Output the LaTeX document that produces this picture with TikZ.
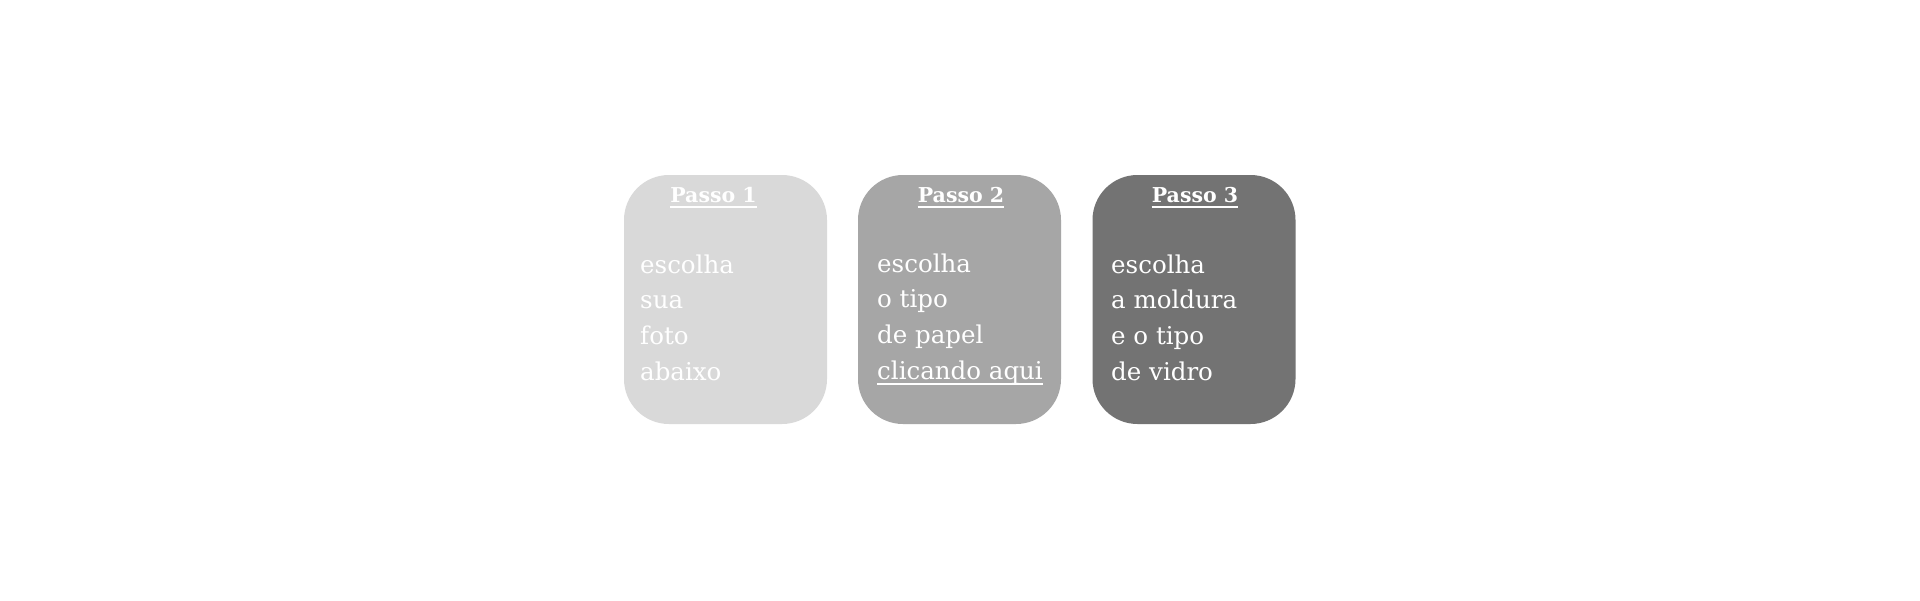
\documentclass[tikz,border=0pt]{standalone}
\usepackage{fontspec}
\setmainfont{DejaVu Serif}
\definecolor{g1}{HTML}{D9D9D9}
\definecolor{g2}{HTML}{A6A6A6}
\definecolor{g3}{HTML}{737373}
\begin{document}
\begin{tikzpicture}[x=1pt,y=-1pt,
  card/.style={draw=none,rounded corners=45pt,minimum width=203pt,minimum height=249pt,inner sep=0pt},
  title/.style={anchor=base,inner sep=0pt,text=white,font=\fontsize{20.5}{24}\selectfont\bfseries},
  body/.style={anchor=base west,inner sep=0pt,text=white,font=\fontsize{24.5}{30}\selectfont},
  uline/.style={draw=white,line width=2pt}]
\path[use as bounding box,fill=white] (0,0) rectangle (1920,600);
\node[card,fill=g1] (b1) at (725.5,299.5) {};
\node[card,fill=g2] (b2) at (959.5,299.5) {};
\node[card,fill=g3] (b3) at (1194,299.5) {};
% titles
\node[title] (t1) at (713.5,202) {Passo 1};
\node[title] (t2) at (961,202) {Passo 2};
\node[title] (t3) at (1195,202) {Passo 3};
\foreach \t in {t1,t2,t3}{
  \draw[uline] ([yshift=-5pt]\t.base west) -- ([yshift=-5pt]\t.base east);
}
% box 1
\node[body] (a1) at (640,273) {escolha};
\node[body] (a2) at (640,308.5) {sua};
\node[body] (a3) at (640,344.5) {foto};
\node[body] (a4) at (640,380) {abaixo};
% box 2
\node[body] (c1) at (877,272) {escolha};
\node[body] (c2) at (877,307.5) {o tipo};
\node[body] (c3) at (877,343.5) {de papel};
\node[body] (c4) at (877,379) {clicando aqui};
\draw[uline,line width=1.6pt] ([yshift=-5pt]c4.base west) -- ([yshift=-5pt]c4.base east);
% box 3
\node[body] (d1) at (1111,273) {escolha};
\node[body] (d2) at (1111,308.5) {a moldura};
\node[body] (d3) at (1111,344.5) {e o tipo};
\node[body] (d4) at (1111,380) {de vidro};
\end{tikzpicture}
\end{document}
